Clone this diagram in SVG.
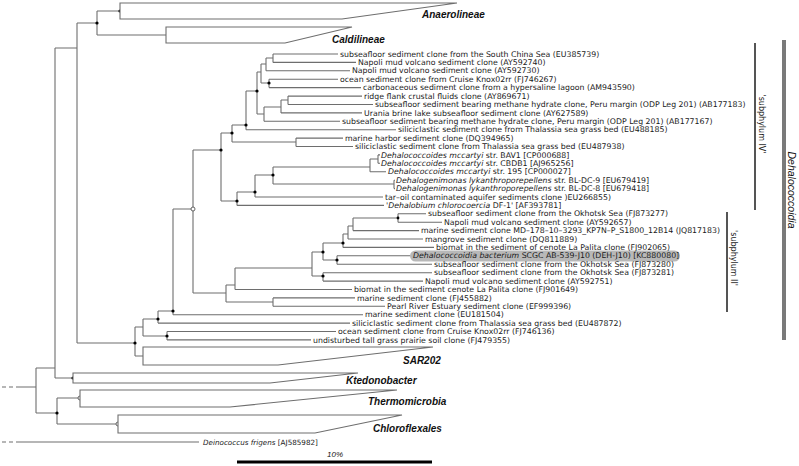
<svg xmlns="http://www.w3.org/2000/svg" width="799" height="466" viewBox="0 0 799 466">
<style>
.t{font-family:"DejaVu Sans",sans-serif;font-size:7.8px;fill:#1a1a1a}
.i{font-style:italic}
.c{font-family:"Liberation Sans",Arial,sans-serif;font-size:10px;font-style:italic;font-weight:bold;fill:#111}
.br{fill:none;stroke:#6e6e6e;stroke-width:1.1}
.tri{fill:#fff;stroke:#6e6e6e;stroke-width:1.1}
.dot{fill:#000}
.oc{fill:#fff;stroke:#555;stroke-width:0.9}
.bar{stroke:#555;stroke-width:2}
.grp{font-family:"DejaVu Sans",sans-serif;font-size:8px;fill:#1a1a1a}
</style>
<rect width="799" height="466" fill="#fff"/>
<rect id="highlight" x="410" y="250.5" width="270" height="11" rx="5.5" fill="#b8b8b8"/>
<g id="connectors" class="br">
<path d="M266 58H273M273 54V62.4M261 64H266M266 58V70.8M261 83H269M269 79.2V87.6M257 72H261M261 64V83M281 100H288M288 96.1V104.5M264 107H281M281 100V112.9M257 114H264M264 107V121.3M246 91H257M257 72V114M232 125H246M246 91V129.7M232 142H296M296 138.1V146.5M221 133H232M232 125V142"/>
<path d="M370 159H378M378 154.9V163.3M273 167H370M370 159V171.7M273 184H394M394 180.2V188.6M255 175H273M273 167V184M237 192H255M255 175V197M221 201H237M237 192V205.4M193 150H221M221 133V201"/>
<path d="M353 218H398M398 213.8V222.2M348 226H353M353 218V230.6M343 234H348M348 226V239M323 243H343M343 234V247.4M323 260H337M337 255.8V264.3M312 252H323M323 243V260M312 276H323M323 272.7V281.1M235 268H312M312 252V276M226 285H235M235 268V289.5M226 302H273M273 297.9V306.3M193 293H226M226 285V302M173 209H193M193 150V293"/>
<path d="M158 311H173M173 209V314.7M143 319H158M158 311V323.1M143 336H167M167 331.5V339.9M135 327H143M143 319V336M77 343H135M135 327V356M135 356H143"/>
<path d="M77 23H97M97 11V35M97 11H120M97 35H166M55 48H77M77 23V343M36 368H55M55 48V378M55 378H73M20 387H36M36 368V413M36 413H57M57 398V424M57 398H80M57 424H118M20 442H199"/>
<path d="M2 387H20M2 442H20" stroke-dasharray="4 3"/>
<path d="M273 54H338M273 62.4H356M266 70.8H350M269 79.2H338M269 87.6H361M288 96.1H362M288 104.5H373M281 112.9H362M264 121.3H340M246 129.7H396M296 138.1H343M296 146.5H353M378 154.9H380M378 163.3H380M370 171.7H386M394 180.2H395M394 188.6H395M255 197H383M237 205.4H384"/>
<path d="M398 213.8H426M398 222.2H442M353 230.6H419M348 239H423M343 247.4H434M337 255.8H410M337 264.3H432M323 272.7H432M323 281.1H423M235 289.5H352M273 297.9H355M273 306.3H385M173 314.7H363M158 323.1H350M167 331.5H336M167 339.9H311"/>
</g>
<g id="node-markers">
<circle class="dot" cx="120" cy="11" r="1.6"/><circle class="dot" cx="97" cy="23" r="1.6"/><circle class="dot" cx="269" cy="83" r="1.6"/><circle class="dot" cx="257" cy="91" r="1.6"/><circle class="dot" cx="246" cy="125" r="1.6"/><circle class="dot" cx="232" cy="133" r="1.6"/><circle class="dot" cx="221" cy="150" r="1.6"/><circle class="dot" cx="273" cy="175" r="1.6"/><circle class="dot" cx="255" cy="192" r="1.6"/><circle class="dot" cx="237" cy="201" r="1.6"/><circle class="dot" cx="398" cy="218" r="1.4"/><circle class="dot" cx="343" cy="243" r="1.6"/><circle class="dot" cx="323" cy="252" r="1.6"/><circle class="dot" cx="337" cy="260" r="1.6"/><circle class="dot" cx="323" cy="276" r="1.6"/><circle class="dot" cx="173" cy="311" r="1.6"/><circle class="dot" cx="158" cy="319" r="1.6"/><circle class="dot" cx="167" cy="336" r="1.6"/><circle class="dot" cx="135" cy="343" r="1.6"/><circle class="dot" cx="73" cy="378" r="1.6"/><circle class="dot" cx="57" cy="413" r="1.6"/>
<circle class="oc" cx="193" cy="209" r="2"/><circle class="oc" cx="80" cy="398" r="2"/><circle class="oc" cx="118" cy="424" r="2"/>
</g>
<g id="clade-anaerolineae"><polygon class="tri" points="120,3 457,3 342,19 120,19"/><text class="c" x="422" y="17.5">Anaerolineae</text></g>
<g id="clade-caldilineae"><polygon class="tri" points="166,27 352,27 285,43 166,43"/><text class="c" x="332" y="43">Caldilineae</text></g>
<g id="clade-sar202"><polygon class="tri" points="143,347 433,347 278,365 143,365"/><text class="c" x="403" y="364">SAR202</text></g>
<g id="clade-ktedonobacter"><polygon class="tri" points="73,373 358,373 270,383 73,383"/><text class="c" x="346" y="384">Ktedonobacter</text></g>
<g id="clade-thermomicrobia"><polygon class="tri" points="80,390 397,390 230,407 80,407"/><text class="c" x="368" y="405">Thermomicrobia</text></g>
<g id="clade-chloroflexales"><polygon class="tri" points="118,415 402,415 315,433 118,433"/><text class="c" x="373" y="432">Chloroflexales</text></g>
<g id="leaves" class="t">
<g id="leaf1"><text x="340" y="56.6">subseafloor sediment clone from the South China Sea (EU385739)</text></g>
<g id="leaf2"><text x="358" y="65">Napoli mud volcano sediment clone (AY592740)</text></g>
<g id="leaf3"><text x="352" y="73.4">Napoli mud volcano sediment clone (AY592730)</text></g>
<g id="leaf4"><text x="340" y="81.8">ocean sediment clone from Cruise Knox02rr (FJ746267)</text></g>
<g id="leaf5"><text x="363" y="90.2">carbonaceous sediment clone from a hypersaline lagoon (AM943590)</text></g>
<g id="leaf6"><text x="364" y="98.7">ridge flank crustal fluids clone (AY869671)</text></g>
<g id="leaf7"><text x="375" y="107.1">subseafloor sediment bearing methane hydrate clone, Peru margin (ODP Leg 201) (AB177183)</text></g>
<g id="leaf8"><text x="364" y="115.5">Urania brine lake subseafloor sediment clone (AY627589)</text></g>
<g id="leaf9"><text x="342" y="123.9">subseafloor sediment bearing methane hydrate clone, Peru margin (ODP Leg 201) (AB177167)</text></g>
<g id="leaf10"><text x="398" y="132.3">siliciclastic sediment clone from Thalassia sea grass bed (EU488185)</text></g>
<g id="leaf11"><text x="345" y="140.7">marine harbor sediment clone (DQ394965)</text></g>
<g id="leaf12"><text x="355" y="149.1">siliciclastic sediment clone from Thalassia sea grass bed (EU487938)</text></g>
<g id="leaf13"><text x="381" y="157.5"><tspan class="i">Dehalococcoides mccartyi</tspan> str. BAV1 [CP000688]</text></g>
<g id="leaf14"><text x="381" y="165.9"><tspan class="i">Dehalococcoides mccartyi</tspan> str. CBDB1 [AJ965256]</text></g>
<g id="leaf15"><text x="388" y="174.3"><tspan class="i">Dehalococcoides mccartyi</tspan> str. 195 [CP000027]</text></g>
<g id="leaf16"><text x="396" y="182.8"><tspan class="i">Dehalogenimonas lykanthroporepellens</tspan> str. BL-DC-9 [EU679419]</text></g>
<g id="leaf17"><text x="396" y="191.2"><tspan class="i">Dehalogenimonas lykanthroporepellens</tspan> str. BL-DC-8 [EU679418]</text></g>
<g id="leaf18"><text x="385" y="199.6">tar–oil contaminated aquifer sediments clone )EU266855)</text></g>
<g id="leaf19"><text x="386" y="208"><tspan class="i">'Dehalobium chlorocoercia</tspan> DF-1' [AF393781]</text></g>
<g id="leaf20"><text x="428" y="216.4">subseafloor sediment clone from the Okhotsk Sea (FJ873277)</text></g>
<g id="leaf21"><text x="444" y="224.8">Napoli mud volcano sediment clone (AY592657)</text></g>
<g id="leaf22"><text x="421" y="233.2">marine sediment clone MD–178–10–3293_KP7N–P_S1800_12B14 (JQ817183)</text></g>
<g id="leaf23"><text x="425" y="241.6">mangrove sediment clone (DQ811889)</text></g>
<g id="leaf24"><text x="436" y="250">biomat in the sediment of cenote La Palita clone (FJ902065)</text></g>
<g id="leaf25"><text x="413" y="258.4"><tspan class="i">Dehalococcoidia bacterium</tspan> SCGC AB-539-J10 (DEH-J10) [KC880080]</text></g>
<g id="leaf26"><text x="434" y="266.9">subseafloor sediment clone from the Okhotsk Sea (FJ873280)</text></g>
<g id="leaf27"><text x="434" y="275.3">subseafloor sediment clone from the Okhotsk Sea (FJ873281)</text></g>
<g id="leaf28"><text x="425" y="283.7">Napoli mud volcano sediment clone (AY592751)</text></g>
<g id="leaf29"><text x="354" y="292.1">biomat in the sediment cenote La Palita clone (FJ901649)</text></g>
<g id="leaf30"><text x="357" y="300.5">marine sediment clone (FJ455882)</text></g>
<g id="leaf31"><text x="387" y="308.9">Pearl River Estuary sediment clone (EF999396)</text></g>
<g id="leaf32"><text x="365" y="317.3">marine sediment clone (EU181504)</text></g>
<g id="leaf33"><text x="352" y="325.7">siliciclastic sediment clone from Thalassia sea grass bed (EU487872)</text></g>
<g id="leaf34"><text x="338" y="334.1">ocean sediment clone from Cruise Knox02rr (FJ746136)</text></g>
<g id="leaf35"><text x="313" y="342.5">undisturbed tall grass prairie soil clone (FJ479355)</text></g>
<g id="leaf-deinococcus"><text x="203" y="445" style="font-size:7.2px"><tspan class="i">Deinococcus frigens</tspan> [AJ585982]</text></g>
</g>
<g id="group-subphylum-IV"><line class="bar" x1="755" y1="43" x2="755" y2="210"/><text class="grp" transform="translate(759,124) rotate(90)" text-anchor="middle">'subphylum IV'</text></g>
<g id="group-subphylum-II"><line class="bar" x1="727" y1="212" x2="727" y2="312"/><text class="grp" transform="translate(731,258) rotate(90)" text-anchor="middle">'subphylum II'</text></g>
<g id="group-dehalococcoidia"><line x1="784" y1="40" x2="784" y2="340" stroke="#7a7a7a" stroke-width="4"/><text transform="translate(788,190) rotate(90)" text-anchor="middle" style="font-family:'Liberation Sans',Arial,sans-serif;font-size:10.5px;font-style:italic;fill:#111">Dehalococcoidia</text></g>
<g id="scale-bar"><line x1="237" y1="462" x2="432" y2="462" stroke="#000" stroke-width="3"/><text x="335" y="457" text-anchor="middle" style="font-family:'Liberation Sans',Arial,sans-serif;font-size:8px;font-style:italic;fill:#111">10%</text></g>
</svg>
